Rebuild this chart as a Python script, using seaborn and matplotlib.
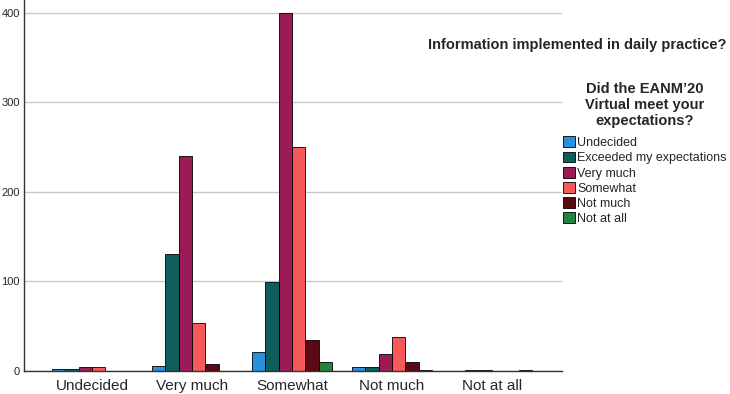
import pandas as pd
import matplotlib.pyplot as plt
import seaborn as sns

# categories on the x axis (Information implemented in daily practice?)
practice = ["Undecided", "Very much", "Somewhat", "Not much", "Not at all"]
# hue levels (Did the EANM'20 Virtual meet your expectations?)
expectations = ["Undecided", "Exceeded my expectations", "Very much",
                "Somewhat", "Not much", "Not at all"]

# counts per expectation level, one value per practice category
undecided = [2, 6, 21, 4, 0]
exceeded = [2, 131, 99, 5, 1]
very_much = [5, 240, 399, 19, 1]
somewhat = [4, 54, 250, 38, 0]
not_much = [0, 8, 35, 10, 0]
not_at_all = [0, 0, 10, 1, 1]

colors = ["#2a8fdc", "#0e5e5c", "#9c1b56", "#f7585a", "#5a0a12", "#25823f"]

series = [undecided, exceeded, very_much, somewhat, not_much, not_at_all]
rows = []
for level, vals in zip(expectations, series):
    for cat, v in zip(practice, vals):
        rows.append({"practice": cat, "expectation": level, "count": v})
df = pd.DataFrame(rows)

sns.set_style("white")
plt.rcParams["font.family"] = ["Liberation Sans", "DejaVu Sans"]

fig = plt.figure(figsize=(7.3, 3.94), dpi=100)
ax = fig.add_axes([24 / 730, 23 / 394, 538 / 730, 371 / 394])

sns.barplot(data=df, x="practice", y="count", hue="expectation",
            order=practice, hue_order=expectations, palette=colors,
            saturation=1, edgecolor="black", linewidth=0.6, ax=ax)

ax.set_ylim(0, 414)
ax.set_xlim(-0.68, 4.7)
ax.set_yticks([0, 100, 200, 300, 400])
ax.yaxis.grid(True, color="#c8c8c8", linewidth=1)
ax.set_axisbelow(True)
ax.set_xlabel("")
ax.set_ylabel("")
ax.tick_params(axis="y", labelsize=8, length=0, pad=3)
ax.tick_params(axis="x", labelsize=11, length=0, pad=6)
for side in ["top", "right"]:
    ax.spines[side].set_visible(False)
for side in ["left", "bottom"]:
    ax.spines[side].set_color("#333333")
    ax.spines[side].set_linewidth(1)

handles, labels = ax.get_legend_handles_labels()
ax.get_legend().remove()
leg = fig.legend(handles, labels, loc="upper left",
                 bbox_to_anchor=(563 / 730, 1 - 82 / 394),
                 title="Did the EANM\u201920\nVirtual meet your\nexpectations?",
                 frameon=False, fontsize=9, handlelength=0.95,
                 handleheight=0.95, handletextpad=0.2, labelspacing=0.2,
                 borderaxespad=0, borderpad=0)
leg.get_title().set_fontweight("bold")
leg.get_title().set_fontsize(10.5)
leg.get_title().set_multialignment("center")
leg._legend_box.align = "center"
leg._legend_box.sep = 5.8  # more room between the title and the entries

fig.text(727 / 730, 1 - 45 / 394, "Information implemented in daily practice?",
         ha="right", va="center", fontsize=10.5, fontweight="bold")

fig.savefig("out.png", dpi=100)
